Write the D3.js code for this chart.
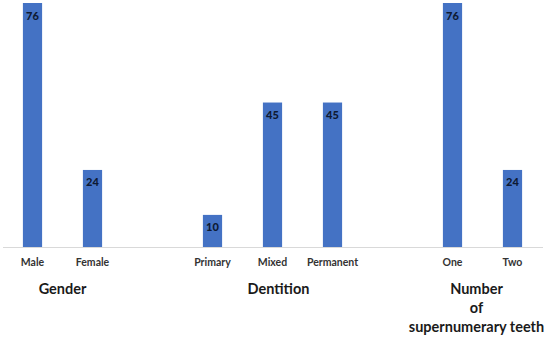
<!DOCTYPE html>
<html>
<head>
<meta charset="utf-8">
<script src="https://cdn.jsdelivr.net/npm/d3@7.9.0/dist/d3.min.js"></script>
<style>
  html, body { margin: 0; padding: 0; background: #fff; }
  svg { display: block; font-family: Lato, 'Open Sans', sans-serif; }
</style>
</head>
<body>
<svg id="chart" width="550" height="338"></svg>
<script>
const categories = ['Male', 'Female', 'Primary', 'Mixed', 'Permanent', 'One', 'Two'];
const values = [76, 24, 10, 45, 45, 76, 24];
const groupOf = [0, 0, 1, 1, 1, 2, 2];
const groupTitles = [['Gender'], ['Dentition'], ['Number', 'of', 'supernumerary teeth']];

// slots: an empty slot sits between groups
let slots = [];
categories.forEach((c, i) => {
  if (i > 0 && groupOf[i] !== groupOf[i - 1]) slots.push('gap' + i);
  slots.push(c);
});

const svg = d3.select('#chart');
const baseY = 247;

const x = d3.scaleBand()
  .domain(slots)
  .range([2.5, 542.5])
  .paddingInner(0.68)
  .paddingOuter(0.34);

const y = d3.scaleLinear()
  .domain([0, d3.max(values)])
  .range([baseY, 3]);

// bars
svg.selectAll('rect.bar')
  .data(categories)
  .join('rect')
  .attr('class', 'bar')
  .attr('x', (d) => x(d))
  .attr('width', x.bandwidth())
  .attr('y', (d, i) => y(values[i]))
  .attr('height', (d, i) => baseY - y(values[i]))
  .attr('fill', '#4472c4');

// value labels
svg.selectAll('text.val')
  .data(categories)
  .join('text')
  .attr('class', 'val')
  .attr('x', (d) => x(d) + x.bandwidth() / 2)
  .attr('y', (d, i) => y(values[i]) + 16.5)
  .attr('text-anchor', 'middle')
  .attr('font-size', 11)
  .attr('font-weight', 900)
  .attr('fill', '#0e1a33')
  .text((d, i) => values[i]);

// baseline
svg.append('line')
  .attr('x1', 3)
  .attr('x2', 543)
  .attr('y1', baseY + 0.5)
  .attr('y2', baseY + 0.5)
  .attr('stroke', '#d9d9d9')
  .attr('stroke-width', 1);

// category labels
svg.selectAll('text.cat')
  .data(categories)
  .join('text')
  .attr('class', 'cat')
  .attr('x', (d) => x(d) + x.bandwidth() / 2)
  .attr('y', 266)
  .attr('text-anchor', 'middle')
  .attr('font-size', 10.5)
  .attr('font-weight', 'bold')
  .attr('fill', '#333')
  .text((d) => d);

// group titles
groupTitles.forEach((lines, g) => {
  let members = categories.filter((c, i) => groupOf[i] === g);
  let cx = d3.mean(members, (c) => x(c) + x.bandwidth() / 2);
  if (g === 1) cx += 6;
  if (g === 2) cx -= 6;
  let t = svg.append('text')
    .attr('text-anchor', 'middle')
    .attr('font-size', 14.5)
    .attr('font-weight', 'bold')
    .attr('fill', '#1a1a1a');
  lines.forEach((line, k) => {
    t.append('tspan')
      .attr('x', cx)
      .attr('y', 294 + k * 19)
      .text(line);
  });
});
</script>
</body>
</html>
